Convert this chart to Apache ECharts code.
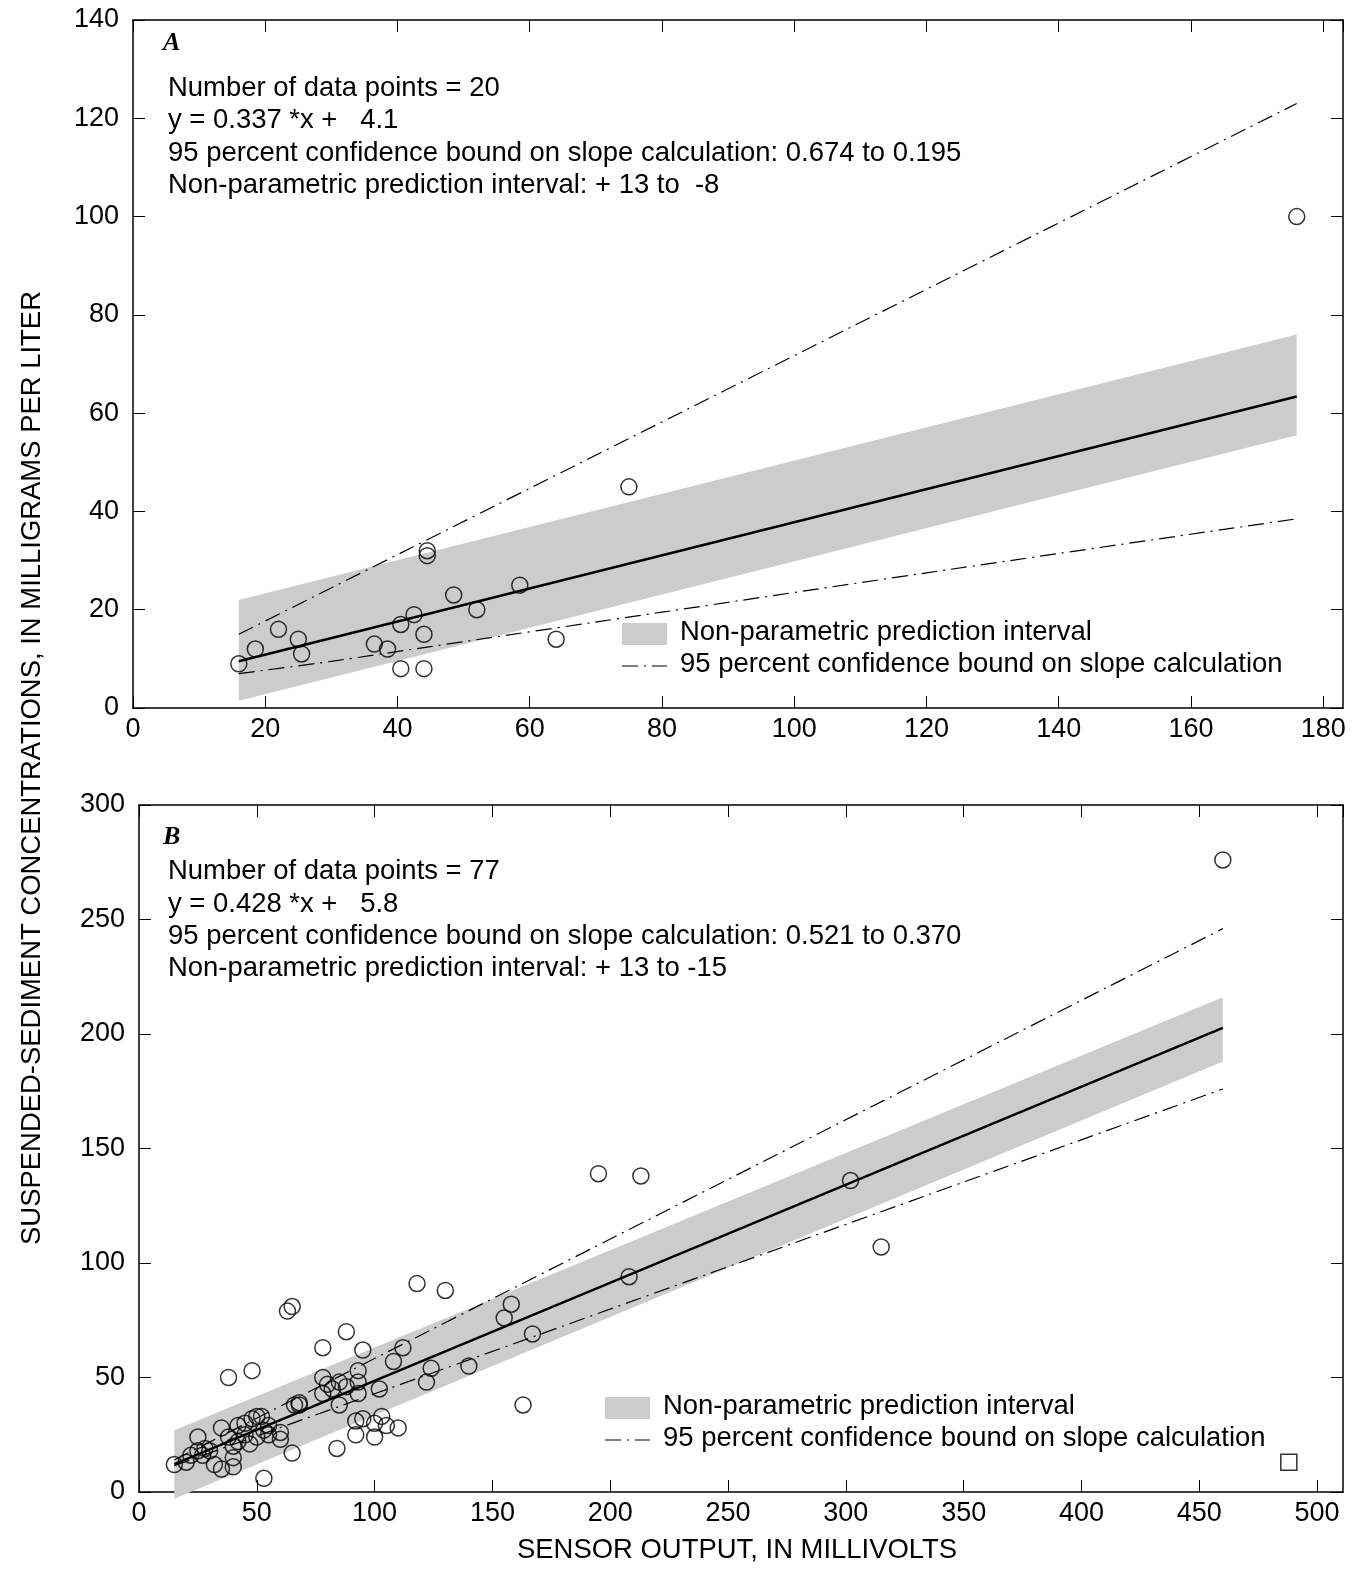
<!DOCTYPE html>
<html><head><meta charset="utf-8">
<script src="https://cdn.jsdelivr.net/npm/echarts@6/dist/echarts.min.js"></script>
<style>body{margin:0}#c{width:1370px;height:1583px}</style></head>
<body><div id="c"></div>
<script>
var FONT = '"Liberation Sans Narrow", "Liberation Sans", sans-serif';
// panel A
var ptsA = [[16,9],[18.5,12],[22,16],[25,14],[25.5,11],[36.5,13],[38.5,12],[40.5,17],[40.5,8],[42.5,19],
  [44,15],[44,8],[44.5,32],[44.5,31],[48.5,23],[52,20],[58.5,25],[64,14],[75,45],[176,100]];
var fitA = [[16,9.5],[176,63.4]];
var bandLowA = [[16,1.5],[176,55.5]];
var bandHighA = [[16,22],[176,76]];
var upperA = [[16,15],[176,123]];
var lowerA = [[16,7],[30,9.5],[45,12.5],[80,19.5],[120,27.5],[176,38.5]];
// panel B
var ptsB = [[15,12],[20,13],[25,18],[25,24],[27,16],[28,19],[30,18],[32,12],[35,10],[35,28],
  [38,50],[38,24],[40,15],[40,11],[40,20],[42,29],[42,22],[45,25],[47,21],[48,53],
  [48,32],[50,24],[50,33],[52,33],[53,6],[53,27],[55,25],[55,29],[60,26],[60,23],
  [63,79],[65,81],[65,17],[66,38],[68,38],[68,39],[78,63],[78,50],[78,43],[80,47],
  [82,45],[84,19],[85,38],[85,48],[88,70],[92,31],[92,25],[93,53],[93,48],[93,43],[95,62],
  [95,32],[100,30],[100,24],[102,45],[103,33],[105,29],[108,57],[110,28],
  [112,63],[118,91],[122,48],[124,54],[130,88],[140,55],[155,76],[158,82],[163,38],[167,69],
  [195,139],[208,94],[213,138],[302,136],[315,107],[460,276],[22,16],[45,30],[88,46]];
var fitB = [[15,12.2],[460,202.7]];
var bandLowB = [[15,-3],[460,188]];
var bandHighB = [[15,27],[460,216]];
var upperB = [[15,14],[460,246]];
var lowerB = [[15,11.5],[460,176]];
var markB = [[488,13]];

function band(lo, hi, xi, yi) {
  var poly = lo.concat(hi.slice().reverse());
  return {type:'custom', xAxisIndex:xi, yAxisIndex:yi, data:[0], silent:true, z:1,
    renderItem:function (params, api) {
      return {type:'polygon', shape:{points:poly.map(function (p) { return api.coord(p); })},
        style:{fill:'#cccccc'}};
    }};
}
function ln(d, xi, yi, dash, w) {
  return {type:'line', xAxisIndex:xi, yAxisIndex:yi, data:d, symbol:'none', smooth:dash ? 0.3 : false,
    lineStyle:{color:'#000', width:w, type: dash ? [16,6,2,6] : 'solid'}, z:5};
}
function sc(d, xi, yi, sym) {
  return {type:'scatter', xAxisIndex:xi, yAxisIndex:yi, data:d, symbol:sym || 'circle', symbolSize:16,
    itemStyle:{color:'rgba(0,0,0,0)', borderColor:'#000', borderWidth:1.5}, z:10};
}
function xAx(gi, max, step, show) {
  return {type:'value', gridIndex:gi, min:0, max:max, interval:step, position: show ? 'bottom' : 'top',
    axisLine:{onZero:false, lineStyle:{color:'#000', width:1.5}}, axisTick:{inside:true, length:12, lineStyle:{color:'#000'}},
    axisLabel:{show:show, color:'#000', fontSize:27, fontFamily:FONT, margin:8, showMaxLabel:false},
    splitLine:{show:false}};
}
function yAx(gi, max, step, show) {
  return {type:'value', gridIndex:gi, min:0, max:max, interval:step, position: show ? 'left' : 'right',
    axisLine:{onZero:false, lineStyle:{color:'#000', width:1.5}}, axisTick:{inside:true, length:12, lineStyle:{color:'#000'}},
    axisLabel:{show:show, color:'#000', fontSize:27, fontFamily:FONT, margin:14}, splitLine:{show:false}};
}
function txt(x, y, s, extra) {
  var st = {text:s, fill:'#000', font:'28px ' + FONT};
  if (extra) for (var k in extra) st[k] = extra[k];
  return {type:'text', x:x, y:y, scaleX:0.98, style:st, z:20};
}
function legend(x, y) {
  return [
    {type:'rect', x:x, y:y + 5, shape:{width:45, height:22}, style:{fill:'#cccccc'}},
    {type:'line', x:x, y:y + 48, shape:{x1:0, y1:0, x2:45, y2:0}, style:{stroke:'#000', lineWidth:1.2, lineDash:[16,6,2,6]}},
    txt(x + 58, y, 'Non-parametric prediction interval'),
    txt(x + 58, y + 32, '95 percent confidence bound on slope calculation')
  ];
}

var chart = echarts.init(document.getElementById('c'));
chart.setOption({
  animation:false,
  grid:[{left:133, top:20, width:1210, height:688}, {left:139, top:805, width:1204, height:687}],
  xAxis:[xAx(0, 183, 20, true), xAx(0, 183, 20, false), xAx(1, 511, 50, true), xAx(1, 511, 50, false)],
  yAxis:[yAx(0, 140, 20, true), yAx(0, 140, 20, false), yAx(1, 300, 50, true), yAx(1, 300, 50, false)],
  series: [
    band(bandLowA, bandHighA, 0, 0),
    ln(fitA, 0, 0, false, 2.5), ln(upperA, 0, 0, true, 1.2), ln(lowerA, 0, 0, true, 1.2), sc(ptsA, 0, 0),
    band(bandLowB, bandHighB, 2, 2),
    ln(fitB, 2, 2, false, 2.5), ln(upperB, 2, 2, true, 1.2), ln(lowerB, 2, 2, true, 1.2), sc(ptsB, 2, 2),
    sc(markB, 2, 2, 'rect')
  ],
  graphic: [
    {type:'text', x:163, y:30, style:{text:'A', fill:'#000', font:'italic bold 26px "Liberation Serif", serif'}},
    txt(168, 74, 'Number of data points = 20'),
    txt(168, 106, 'y = 0.337 *x +   4.1'),
    txt(168, 139, '95 percent confidence bound on slope calculation: 0.674 to 0.195'),
    txt(168, 171, 'Non-parametric prediction interval: + 13 to  -8'),
    {type:'text', x:163, y:824, style:{text:'B', fill:'#000', font:'italic bold 26px "Liberation Serif", serif'}},
    txt(168, 857, 'Number of data points = 77'),
    txt(168, 890, 'y = 0.428 *x +   5.8'),
    txt(168, 922, '95 percent confidence bound on slope calculation: 0.521 to 0.370'),
    txt(168, 954, 'Non-parametric prediction interval: + 13 to -15'),
    txt(517, 1536, 'SENSOR OUTPUT, IN MILLIVOLTS'),
    {type:'text', x:18, y:768, rotation:Math.PI / 2, scaleX:0.98,
     style:{text:'SUSPENDED-SEDIMENT CONCENTRATIONS, IN MILLIGRAMS PER LITER', fill:'#000',
       font:'28px ' + FONT, textAlign:'center', textVerticalAlign:'top'}}
  ].concat(legend(622, 618), legend(605, 1392))
});
</script></body></html>
